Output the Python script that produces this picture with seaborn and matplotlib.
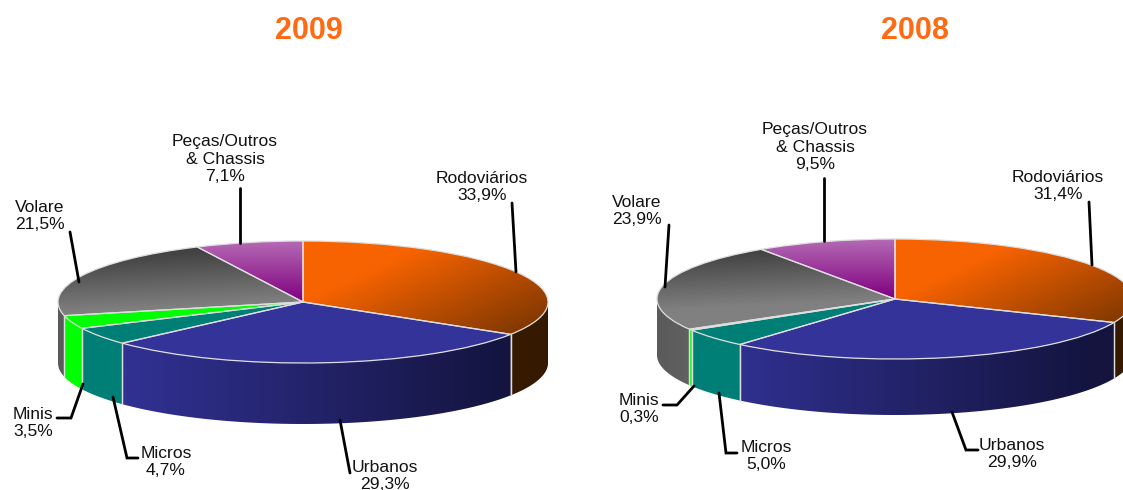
#!/usr/bin/env python3
import matplotlib
matplotlib.use('Agg')
import matplotlib.pyplot as plt
import numpy as np
import seaborn as sns
from matplotlib.patches import Polygon

# values (%)
categories = ['Rodoviários', 'Urbanos', 'Micros', 'Minis', 'Volare', 'Peças/Outros\n& Chassis']
share_2009 = [33.9, 29.3, 4.7, 3.5, 21.5, 7.1]
share_2008 = [31.4, 29.9, 5.0, 0.3, 23.9, 9.5]

W, H = 1123, 490

# top face gradient per category: start colour, end colour, gx, gy, offset
top_style = [
    ('#f76300', '#5a2a00', 0.65, -0.35, 0.0),
    ('#333399', '#333399', 0.0, 0.0, 0.0),
    ('#007f76', '#007f76', 0.0, 0.0, 0.0),
    ('#00ff00', '#00ff00', 0.0, 0.0, 0.0),
    ('#3c3c3c', '#808080', 0.2, -1.0, 1.0),
    ('#b56cb5', '#800080', 0.0, -1.0, 1.0),
]
# side wall gradient per category
side_style = [
    ('#361a00', '#2c1500', 0.0, 0.0, 0.0),
    ('#333399', '#14143f', 0.6, 0.0, 0.5),
    ('#007f76', '#007f76', 0.0, 0.0, 0.0),
    ('#00ff00', '#00ff00', 0.0, 0.0, 0.0),
    ('#5a5a5a', '#808080', 1.4, 0.0, 1.4),
    ('#800080', '#800080', 0.0, 0.0, 0.0),
]

xx, yy = np.meshgrid(np.linspace(-1, 1, 300), np.linspace(1, -2, 300))
edge = '#dedede'


def fill(ax, patch, style, z):
    c0, c1, gx, gy, off = style
    cmap = sns.blend_palette([c0, c1], 256, as_cmap=True)
    t = np.clip(xx * gx + yy * gy + off, 0, 1)
    im = ax.imshow(t, cmap=cmap, vmin=0, vmax=1, extent=(-1, 1, -2, 1),
                   aspect='auto', zorder=z, interpolation='bilinear')
    im.set_clip_path(patch)


def draw_pie(fig, values, cx, cy, rx, ry, depth):
    # axes fills the figure, so one data unit is rx by ry pixels
    ax = fig.add_axes([0, 0, 1, 1])
    ax.patch.set_alpha(0)
    wedges, _ = ax.pie(values, startangle=90, counterclock=False, radius=1,
                       wedgeprops={'facecolor': 'none', 'edgecolor': edge,
                                   'linewidth': 0.9, 'zorder': 4})
    d = depth / ry
    for w, top, side in zip(wedges, top_style, side_style):
        fill(ax, w, top, 3)
        a = max(w.theta1, -180)
        b = min(w.theta2, 0)
        if b <= a:
            continue
        th = np.radians(np.linspace(a, b, 60))
        x, y = np.cos(th), np.sin(th)
        wall = Polygon(np.r_[np.c_[x, y], np.c_[x[::-1], y[::-1] - d]],
                       closed=True, facecolor='none', edgecolor='none')
        ax.add_patch(wall)
        fill(ax, wall, side, 2)
        # light seams on the wall where slices meet
        for k in (0, -1):
            if -180 < np.degrees(th[k]) < 0:
                ax.plot([x[k], x[k]], [y[k], y[k] - d], color=edge, lw=0.9, zorder=2.5)
    ax.set_xlim(-cx / rx, (W - cx) / rx)
    ax.set_ylim((cy - H) / ry, cy / ry)
    ax.set_aspect('auto')
    ax.axis('off')


def draw_labels(ax, values, centers, leaders):
    for name, v, (x, y) in zip(categories, values, centers):
        txt = f'{name}\n{v:.1f}%'.replace('.', ',')
        ax.text(x, y, txt, ha='center', va='center', fontsize=12.6,
                color='#111111', linespacing=1.2)
    for pts in leaders:
        px, py = zip(*pts)
        ax.plot(px, py, color='black', lw=2.0, solid_joinstyle='miter')


sns.set_theme(style='white')
plt.rcParams['font.family'] = ['Liberation Sans', 'DejaVu Sans']

fig = plt.figure(figsize=(W / 100, H / 100), dpi=100, facecolor='white')

draw_pie(fig, share_2009, 303, 302, 245, 61, 61)
draw_pie(fig, share_2008, 895, 299, 238, 60, 56)

# pixel overlay for titles, labels and leader lines
over = fig.add_axes([0, 0, 1, 1])
over.patch.set_alpha(0)
over.set_xlim(0, W)
over.set_ylim(H, 0)
over.axis('off')

over.text(309, 31, '2009', ha='center', va='center', color='#ff6a13',
          fontsize=22, fontweight='bold')
over.text(915, 31, '2008', ha='center', va='center', color='#ff6a13',
          fontsize=22, fontweight='bold')

centers_2009 = [(482, 187), (385, 476), (166, 462), (33, 423), (40, 216), (225, 159)]
leaders_2009 = [
    [(512, 203), (516, 272)],
    [(340, 420), (350, 473)],
    [(113, 397), (127, 458), (138, 458)],
    [(83, 384), (71, 418), (57, 418)],
    [(70, 232), (79, 282)],
    [(240, 188), (240, 243)],
]
centers_2008 = [(1058, 186), (1012, 454), (766, 456), (639, 409), (637, 211), (815, 147)]
leaders_2008 = [
    [(1089, 202), (1092, 265)],
    [(952, 412), (966, 450), (978, 450)],
    [(719, 393), (726, 453), (737, 453)],
    [(694, 386), (677, 405), (663, 405)],
    [(669, 225), (665, 287)],
    [(824, 178), (824, 241)],
]
draw_labels(over, share_2009, centers_2009, leaders_2009)
draw_labels(over, share_2008, centers_2008, leaders_2008)
over.set_xlim(0, W)
over.set_ylim(H, 0)

fig.savefig('out.png', dpi=100, facecolor='white')
